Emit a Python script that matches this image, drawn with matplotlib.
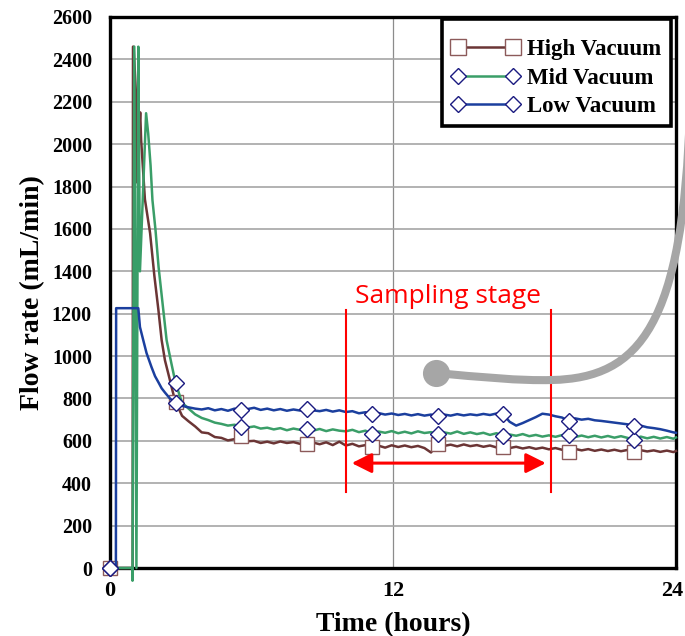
import numpy as np
import matplotlib
matplotlib.use("Agg")
import matplotlib.pyplot as plt
import matplotlib.transforms as mtransforms
from matplotlib.lines import Line2D
from matplotlib.path import Path
from matplotlib.patches import PathPatch

# ---------------------------------------------------------------------------
# Flow-rate logs (mL/min) for the three vacuum settings
# ---------------------------------------------------------------------------
# Steady part is logged every 1000 s; sample k sits at k * 1000 s.
STEP_H = 1000 / 3600
STEADY_K = list(range(10, 87))
END_T = 24.0
MARKER_K_EVERY = 10

# start-up transients (hours, mL/min)
HIGH_EARLY_T = [0.0, 0.96, 0.975, 1.00, 1.10, 1.12, 1.28, 1.32, 1.48, 1.70,
                1.88, 2.05, 2.19, 2.33, 2.54, 2.62, 2.70]
HIGH_EARLY_V = [0, 0, 2460, 2460, 2240, 1820, 2150, 2020, 1740, 1580,
                1380, 1220, 1075, 980, 887, 850, 815]

MID_EARLY_T = [0.0, 0.94, 0.955, 1.03, 1.12, 1.20, 1.27, 1.53, 1.62, 1.72,
               1.80, 1.93, 2.06, 2.26, 2.40, 2.60]
MID_EARLY_V = [0, 0, -60, 2460, 0, 2460, 1400, 2146, 2050, 1900,
               1736, 1594, 1420, 1217, 1075, 967]

LOW_EARLY_T = [0.0, 0.25, 0.26, 1.20, 1.27, 1.41, 1.55, 1.76, 1.91, 2.05,
               2.19, 2.33, 2.54]
LOW_EARLY_V = [0, 0, 1226, 1226, 1137, 1075, 1014, 948, 905, 877,
               848, 828, 800]

# steady readings, samples k = 10 ... 86, then the 24 h reading
HIGH_STEADY = [785, 718, 692, 668, 640, 636, 618, 614, 602, 608,
               625, 598, 600, 590, 596, 588, 597, 590, 594, 586,
               585, 592, 584, 593, 580, 596, 578, 586, 574, 580,
               569, 577, 568, 579, 571, 578, 570, 576, 566, 545,
               587, 576, 582, 574, 583, 575, 580, 572, 578, 569,
               573, 566, 572, 564, 570, 562, 568, 560, 566, 558,
               549, 562, 555, 561, 553, 559, 552, 558, 551, 557,
               549, 556, 550, 555, 548, 554, 547,
               552]

MID_STEADY = [874, 780, 752, 725, 708, 698, 686, 680, 672, 676,
              667, 663, 668, 658, 662, 654, 660, 650, 658, 652,
              655, 648, 656, 646, 654, 648, 645, 652, 641, 648,
              632, 644, 638, 646, 636, 643, 635, 645, 637, 641,
              632, 640, 634, 644, 633, 640, 632, 638, 628, 636,
              624, 630, 624, 632, 622, 628, 620, 626, 619, 627,
              627, 618, 625, 617, 624, 616, 623, 615, 622, 614,
              605, 620, 612, 619, 611, 618, 610,
              616]

LOW_STEADY = [780, 765, 758, 752, 748, 754, 744, 750, 742, 752,
              745, 750, 756, 746, 752, 744, 750, 742, 748, 743,
              749, 744, 740, 746, 738, 744, 736, 740, 730, 735,
              726, 731, 724, 729, 722, 727, 720, 726, 719, 724,
              718, 724, 719, 726, 720, 725, 721, 727, 722, 729,
              726, 690, 672, 684, 698, 712, 728, 724, 716, 710,
              695, 706, 700, 704, 697, 694, 690, 686, 682, 678,
              670, 672, 664, 660, 655, 648, 640,
              638]

SERIES_NAMES = ["High Vacuum", "Mid Vacuum", "Low Vacuum"]
X_TICKS = [0, 12, 24]
Y_TICKS = list(range(0, 2601, 200))

SAMPLING_START_H = 10.0
SAMPLING_END_H = 18.7

# ---------------------------------------------------------------------------
LINE_COLORS = ["#6B3535", "#3A9E68", "#1B3F9E"]
MARKERS = ["s", "D", "D"]
MARKER_EDGES = ["#8C5A5A", "#1A1A80", "#1A1A80"]
MARKER_SIZES = [9.4, 8.6, 8.6]
SERIF = ["Liberation Serif", "DejaVu Serif"]


def build(early_t, early_v, steady_v):
    t = list(early_t) + [k * STEP_H for k in STEADY_K] + [END_T]
    v = list(early_v) + list(steady_v)
    marks = [0] + [len(early_t) + i for i, k in enumerate(STEADY_K)
                   if k % MARKER_K_EVERY == 0]
    return np.array(t), np.array(v, dtype=float), marks


series = [
    build(HIGH_EARLY_T, HIGH_EARLY_V, HIGH_STEADY),
    build(MID_EARLY_T, MID_EARLY_V, MID_STEADY),
    build(LOW_EARLY_T, LOW_EARLY_V, LOW_STEADY),
]

W, H = 685, 636
fig = plt.figure(figsize=(W / 100, H / 100), dpi=100)
ax = fig.add_axes([110 / W, 1 - 568 / H, 566 / W, 551 / H])

ax.set_xlim(0, 24)
ax.set_ylim(0, 2600)
ax.set_xticks(X_TICKS)
ax.set_yticks(Y_TICKS)
ax.set_axisbelow(True)
ax.grid(axis="y", color="#A6A6A6", lw=1.2)
ax.grid(axis="x", color="#8C8C8C", lw=0.9)
for sp in ax.spines.values():
    sp.set_linewidth(2.4)
    sp.set_color("black")
ax.tick_params(length=0, pad=9)
ax.tick_params(axis="y", pad=13)
for lab in ax.get_xticklabels() + ax.get_yticklabels():
    lab.set_fontfamily(SERIF)
    lab.set_fontweight("bold")
for lab in ax.get_yticklabels():
    lab.set_fontsize(14.5)
for lab in ax.get_xticklabels():
    lab.set_fontsize(16)
# keep the last hour label inside the canvas
last = ax.get_xticklabels()[-1]
last.set_transform(last.get_transform() +
                   mtransforms.ScaledTranslation(-4 / 100, 0,
                                                 fig.dpi_scale_trans))

ax.set_xlabel("Time (hours)", fontfamily=SERIF, fontweight="bold",
              fontsize=20, labelpad=8)
ax.set_ylabel("Flow rate (mL/min)", fontfamily=SERIF, fontweight="bold",
              fontsize=20, labelpad=5)

for (t, v, marks), col, mk, mec, ms in zip(series, LINE_COLORS, MARKERS,
                                           MARKER_EDGES, MARKER_SIZES):
    ax.plot(t, v, color=col, lw=1.8, marker=mk, markevery=marks,
            ms=ms, mfc="white", mec=mec, mew=1.0, clip_on=False, zorder=3)

# sampling window
for xv in (SAMPLING_START_H, SAMPLING_END_H):
    ax.plot([xv, xv], [358, 1217], color="red", lw=1.5, zorder=4)
ax.annotate("", xy=(10.25, 495), xytext=(18.48, 495),
            arrowprops=dict(arrowstyle="<|-|>,head_length=1.0,head_width=0.5",
                            mutation_scale=12, color="red", lw=2.2,
                            shrinkA=0, shrinkB=0), zorder=4)
ax.text(14.35, 1250, "Sampling stage", color="red", fontsize=19,
        fontfamily=["Open Sans", "DejaVu Sans"], ha="center", va="baseline",
        zorder=4)

# legend
handles = [
    Line2D([], [], color=LINE_COLORS[0], lw=1.8, marker="s", ms=12,
           mfc="white", mec=MARKER_EDGES[0], mew=1.0),
    Line2D([], [], color=LINE_COLORS[1], lw=1.8, marker="D", ms=8.6,
           mfc="white", mec=MARKER_EDGES[1], mew=1.0),
    Line2D([], [], color=LINE_COLORS[2], lw=1.8, marker="D", ms=8.6,
           mfc="white", mec=MARKER_EDGES[2], mew=1.0),
]
leg = ax.legend(handles, SERIES_NAMES, loc="upper right",
                bbox_to_anchor=(0.991, 0.997), borderaxespad=0,
                numpoints=2, handlelength=3.0, handletextpad=0.3,
                borderpad=0.42, labelspacing=0.31, fancybox=False,
                title=" ", title_fontproperties=dict(size=3),
                prop=dict(family=SERIF, weight="bold", size=16.5))
frame = leg.get_frame()
frame.set_edgecolor("black")
frame.set_linewidth(2.6)
frame.set_alpha(1)
leg.set_zorder(6)

# grey callout connector
def fpt(px, py):
    return (px / W, 1 - py / H)

verts = [fpt(436, 373), fpt(480, 377), fpt(520, 381), fpt(552, 380),
         fpt(640, 378), fpt(683, 325), fpt(690, 110)]
codes = [Path.MOVETO] + [Path.CURVE4] * 6
fig.add_artist(PathPatch(Path(verts, codes), transform=fig.transFigure,
                         fill=False, edgecolor="#A6A6A6", lw=5.8,
                         capstyle="round"))
cx, cy = fpt(436, 373)
fig.add_artist(Line2D([cx], [cy], transform=fig.transFigure, marker="o",
                      ms=18.5, color="#A6A6A6", mec="#A6A6A6"))

fig.savefig("out.png", dpi=100)
